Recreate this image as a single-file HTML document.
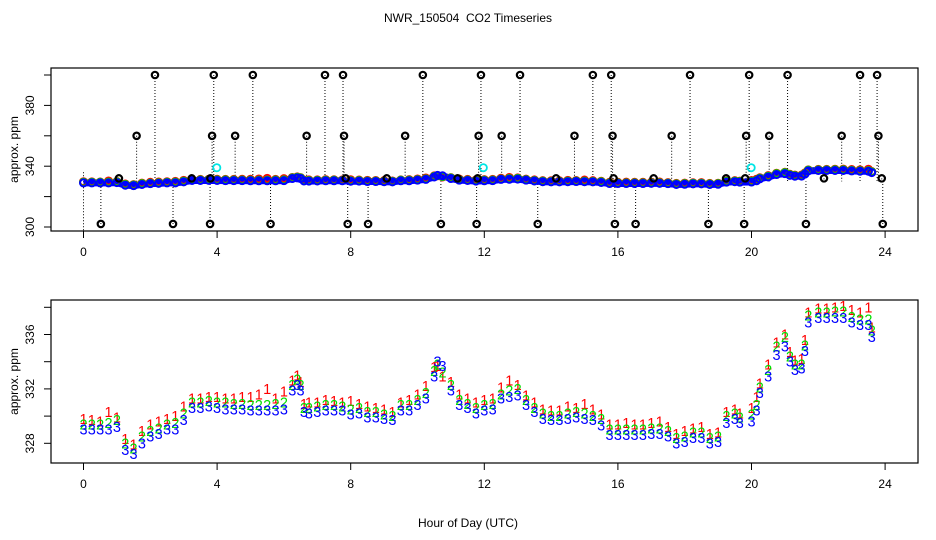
<!DOCTYPE html>
<html><head><meta charset="utf-8"><style>
html,body{margin:0;padding:0;background:#fff;}
svg{display:block;font-family:"Liberation Sans",sans-serif;}
</style></head><body>
<svg id="chart" width="936" height="540" viewBox="0 0 936 540" xmlns="http://www.w3.org/2000/svg">
<text x="468" y="22" text-anchor="middle" font-size="12">NWR_150504&#160; CO2 Timeseries</text>
<text x="468" y="527" text-anchor="middle" font-size="12">Hour of Day (UTC)</text>
<g id="topPanel"></g>
<g id="botPanel"></g>
</svg>
<script>
const hours = [0,0.25,0.5,0.75,1.0,1.25,1.5,1.75,2.0,2.25,2.5,2.75,3.0,3.25,3.5,3.75,4.0,4.25,4.5,4.75,5.0,5.25,5.5,5.75,6.0,6.25,6.4,6.5,6.6,6.75,7.0,7.25,7.5,7.75,8.0,8.25,8.5,8.75,9.0,9.25,9.5,9.75,10.0,10.25,10.5,10.6,10.75,11.0,11.25,11.5,11.75,12.0,12.25,12.5,12.75,13.0,13.25,13.5,13.75,14.0,14.25,14.5,14.75,15.0,15.25,15.5,15.75,16.0,16.25,16.5,16.75,17.0,17.25,17.5,17.75,18.0,18.25,18.5,18.75,19.0,19.25,19.5,19.65,20.0,20.15,20.25,20.5,20.75,21.0,21.15,21.3,21.5,21.6,21.7,22.0,22.25,22.5,22.75,23.0,23.25,23.5,23.6];
const series3 = [329.0,329.0,329.0,329.0,329.2,327.5,327.2,328.0,328.5,328.7,329.0,329.0,329.7,330.6,330.6,330.7,330.6,330.5,330.5,330.5,330.4,330.4,330.4,330.4,330.5,331.9,332.3,331.9,330.3,330.2,330.3,330.4,330.4,330.4,330.1,330.2,329.9,329.9,329.8,329.7,330.4,330.4,330.8,331.3,332.9,334.0,333.7,331.9,330.8,330.6,330.2,330.4,330.5,331.3,331.4,331.5,330.8,330.3,329.8,329.7,329.7,329.8,329.9,329.8,329.7,329.3,328.6,328.6,328.6,328.6,328.6,328.7,328.7,328.5,328.0,328.1,328.4,328.4,328.0,328.1,329.5,329.8,329.5,329.6,330.4,331.7,332.9,334.5,335.1,334.0,333.4,333.5,334.8,336.9,337.2,337.2,337.2,337.2,336.9,336.7,336.7,335.8];
const series2 = [329.4,329.4,329.4,329.5,329.7,328.0,327.6,328.5,328.9,329.1,329.4,329.5,330.2,331.0,331.0,331.1,331.0,331.0,330.9,330.9,330.8,330.8,330.8,330.9,331.0,332.3,332.7,332.3,330.6,330.6,330.7,330.8,330.8,330.7,330.5,330.6,330.3,330.3,330.1,330.0,330.8,330.8,331.2,331.7,333.3,333.8,333.2,332.3,331.2,330.9,330.6,330.8,330.9,331.6,331.9,332.0,331.2,330.6,330.2,330.0,330.0,330.2,330.3,330.2,330.0,329.8,329.0,329.0,329.0,329.0,329.0,329.1,329.1,328.9,328.4,328.5,328.8,328.8,328.4,328.5,330.0,330.2,329.9,330.1,330.8,332.1,333.4,335.1,335.8,334.4,333.8,333.8,335.2,337.4,337.6,337.6,337.7,337.7,337.3,337.1,337.1,336.3];
const series1 = [329.8,329.7,329.6,330.3,329.9,328.3,327.9,328.9,329.4,329.6,329.8,330.0,330.7,331.3,331.3,331.4,331.4,331.3,331.3,331.4,331.4,331.6,332.0,331.3,331.8,332.6,333.0,332.5,330.9,331.0,331.0,331.2,331.1,331.0,331.1,330.9,330.7,330.6,330.5,330.3,331.0,331.2,331.6,332.2,333.6,333.7,332.9,332.5,331.6,331.3,331.0,331.2,331.3,332.1,332.6,332.3,331.5,331.0,330.5,330.4,330.4,330.7,330.6,330.9,330.5,330.1,329.4,329.4,329.5,329.4,329.4,329.5,329.6,329.2,328.7,328.9,329.1,329.2,328.7,328.8,330.3,330.5,330.2,330.6,331.4,332.4,333.8,335.4,336.0,334.7,334.1,334.2,335.6,337.6,337.9,337.9,338.0,338.1,337.8,337.6,338.0,336.5];
const outlierHours = [0.52,1.06,1.59,2.14,2.68,3.24,3.79,3.8,3.85,3.9,4.54,5.07,5.6,6.68,7.23,7.77,7.8,7.85,7.91,8.52,9.08,9.63,10.16,10.7,11.2,11.77,11.8,11.83,11.9,12.52,13.07,13.6,14.15,14.7,15.25,15.8,15.84,15.87,15.91,16.53,17.07,17.61,18.16,18.71,19.24,19.78,19.81,19.84,19.93,20.53,21.08,21.63,22.17,22.7,23.25,23.76,23.8,23.9,23.93];
const outlierValues = [302,332,360,400,302,332,302,332,360,400,360,400,302,360,400,400,360,332,302,302,332,360,400,302,332,302,332,360,400,360,400,302,332,360,400,400,360,332,302,302,332,360,400,302,332,302,332,360,400,360,400,302,332,360,400,400,360,332,302];
const flagHours = [3.99,11.97,19.99];
const flagValues = [339,339,339];
const xTicks = [0,4,8,12,16,20,24];
const topTicks = [300,320,340,360,380,400];
const topTickLabels = ["300","","340","","380",""];
const botTicks = [328,330,332,334,336,338];
const botTickLabels = ["328","","332","","336",""];

const NS = "http://www.w3.org/2000/svg";
function el(tag, attrs, parent){const e=document.createElementNS(NS,tag);for(const k in attrs)e.setAttribute(k,attrs[k]);parent.appendChild(e);return e;}
const X0=51,X1=918;
function xs(h){return 83.5+h*33.4;}
function yTop(v){return 227-(v-300)*1.52;}
function yBot(v){return 443.3-(v-328)*13.6;}

function frame(g,t0,b0,ticks,labels,ys,name){
  const r=el('rect',{x:X0,y:t0,width:X1-X0,height:b0-t0,fill:'none',stroke:'#000','stroke-width':1.2},g);
  
  
  xTicks.forEach(t=>{
    const l=el('line',{x1:xs(t),x2:xs(t),y1:b0,y2:b0+7,stroke:'#000'},g);
    
    
    const tx=el('text',{x:xs(t),y:b0+25,'text-anchor':'middle','font-size':12},g);
    tx.textContent=t;
    
    
  });
  ticks.forEach((t,i)=>{
    const y=ys(t);
    const l=el('line',{x1:X0-7,x2:X0,y1:y,y2:y,stroke:'#000'},g);
    
    
    if(labels[i]){
      const tx=el('text',{x:0,y:0,'text-anchor':'middle','font-size':12,transform:`translate(34,${y}) rotate(-90)`},g);
      tx.textContent=labels[i];
      
      
    }
  });
  const yt=el('text',{x:0,y:0,'text-anchor':'middle','font-size':12,transform:`translate(18,${(t0+b0)/2}) rotate(-90)`},g);
  yt.textContent='approx. ppm';
  
  
}

const topG=document.getElementById('topPanel');
frame(topG,68,231,topTicks,topTickLabels,yTop,'top');
outlierHours.forEach((h,i)=>{
  const x=xs(h),y=yTop(outlierValues[i]);
  const l=el('line',{x1:x,x2:x,y1:y,y2:yTop(330),stroke:'#000','stroke-width':1,'stroke-dasharray':'1,2'},topG);
  
  
});
const zl=el('line',{x1:xs(0),x2:xs(0),y1:yTop(336),y2:236,stroke:'#000','stroke-dasharray':'1,2'},topG);


const band=el('polyline',{points:hours.map((h,i)=>xs(h)+','+yTop(series3[i])).join(' '),fill:'none',stroke:'#0000ff','stroke-width':7,'stroke-linejoin':'round'},topG);


[[series1,'#ff0000','series-1'],[series2,'#00dd00','series-2'],[series3,'#0000ff','series-3']].forEach(([arr,c,n])=>{
  hours.forEach((h,i)=>{
    const c1=el('circle',{cx:xs(h),cy:yTop(arr[i]),r:3.5,fill:'none',stroke:c,'stroke-width':2},topG);
    
    
  });
});
outlierHours.forEach((h,i)=>{
  const c1=el('circle',{cx:xs(h),cy:yTop(outlierValues[i]),r:3.2,fill:'none',stroke:'#000','stroke-width':2.2},topG);
  
  
});
flagHours.forEach((h,i)=>{
  const c1=el('circle',{cx:xs(h),cy:yTop(flagValues[i]),r:3.6,fill:'none',stroke:'#00e5e5','stroke-width':1.8},topG);
  
  
});

const botG=document.getElementById('botPanel');
frame(botG,300,463,botTicks,botTickLabels,yBot,'bottom');
[[series1,'#ff0000','1','series-1'],[series2,'#00dd00','2','series-2'],[series3,'#0000ff','3','series-3']].forEach(([arr,c,ch,n])=>{
  hours.forEach((h,i)=>{
    const t=el('text',{x:xs(h),y:yBot(arr[i])+5,'text-anchor':'middle','font-size':14.5,fill:c},botG);
    t.textContent=ch;
    
    
  });
});
</script>
</body></html>
